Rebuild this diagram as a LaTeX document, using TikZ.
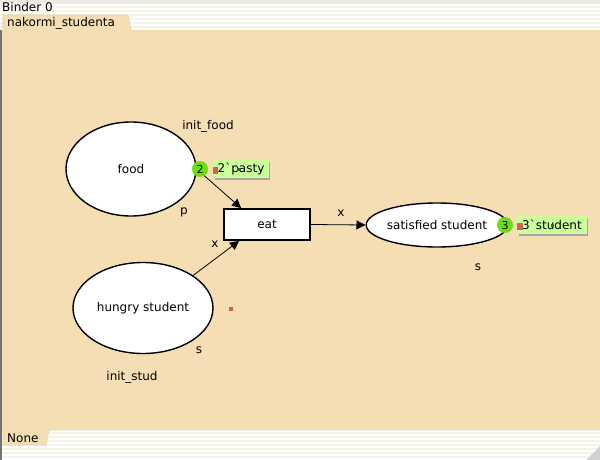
\documentclass[tikz,border=0pt]{standalone}
\usepackage{fontspec}
\setmainfont{DejaVu Sans}
\usetikzlibrary{shapes.geometric,arrows.meta,shadows}
\definecolor{wheatbg}{RGB}{245,222,179}
\definecolor{stripe}{RGB}{246,244,230}
\definecolor{topgray}{RGB}{236,235,227}
\definecolor{tabedge}{RGB}{225,210,175}
\definecolor{tokgreen}{RGB}{110,222,20}
\definecolor{lblgreen}{RGB}{204,255,153}
\definecolor{marker}{RGB}{210,100,70}
\definecolor{handle}{RGB}{20,120,40}
\begin{document}
\begin{tikzpicture}[x=1pt,y=-1pt,
  txt/.style={font=\fontsize{12}{14}\selectfont, inner sep=0pt},
  place/.style={draw=black, line width=1.4pt, fill=white, ellipse, inner sep=0pt, txt},
  trans/.style={draw=black, line width=1.8pt, fill=white, rectangle, inner sep=0pt, txt},
  arcline/.style={draw=black, line width=0.8pt, -{Triangle[length=9pt,width=9pt]}},
  token/.style={circle, fill=tokgreen, inner sep=0pt, minimum size=16pt, font=\fontsize{11}{13}\selectfont},
  marking/.style={fill=lblgreen, inner ysep=0pt, txt, anchor=west, minimum height=18pt,
    drop shadow={shadow xshift=1.5pt, shadow yshift=-1.5pt, fill=black!35, opacity=1}},
  tabshape/.style={fill=wheatbg, draw=tabedge, line width=0.6pt}
]
\useasboundingbox (0,0) rectangle (600,460);
% window background
\fill[white] (0,0) rectangle (600,460);
\fill[topgray] (0,0) rectangle (600,4);
\foreach \y in {6,10,...,28} {\fill[stripe] (0,\y) rectangle (600,\y+2);}
\foreach \y in {432,436,...,458} {\fill[stripe] (0,\y) rectangle (600,\y+2);}
\fill[topgray] (0,430) rectangle (600,431);
\fill[wheatbg] (0,30) rectangle (600,430);
\draw[black!55, line width=1.5pt] (0.75,30) -- (0.75,460);
\fill[black!18] (600,446) -- (600,460) -- (586,460) -- cycle;
% tabs
\node[txt, anchor=base west] (binder) at (2,12) {Binder 0};
\draw[tabshape] (3,30) -- (3,15) -- (128,15) -- (131,30);
\fill[wheatbg] (3,28) rectangle (130,31);
\node[txt, anchor=base west] (tabname) at (7,27) {nakormi\_studenta};
\draw[tabshape] (3,430) -- (3,445) -- (46,445) -- (49,430);
\fill[wheatbg] (3.3,429) rectangle (48.5,431);
\node[txt, anchor=base west] (none) at (7,442) {None};
% nodes
\node[place, minimum width=130pt, minimum height=94pt] (food) at (131,169) {food};
\node[place, minimum width=140pt, minimum height=91pt] (hungry) at (143,308) {hungry student};
\node[place, minimum width=129pt, minimum height=44pt] (sat) at (437,225) {satisfied student};
\node[trans, minimum width=86pt, minimum height=31pt] (eat) at (267,224.5) {eat};
% arcs
\draw[arcline] (food.east) -- ([xshift=18pt]eat.north west);
\draw[arcline] (hungry.33) -- ([xshift=16pt]eat.south west);
\draw[arcline] (eat.east) -- (sat.west);
% labels
\node[txt] (lif) at (208,126) {init\_food};
\node[txt] (lp) at (184,212) {p};
\node[txt] (lx1) at (341,213) {x};
\node[txt] (lx2) at (215,244) {x};
\node[txt] (ls1) at (199,350) {s};
\node[txt] (lis) at (132,377) {init\_stud};
\node[txt] (ls2) at (478,267) {s};
% tokens and markings
\node[token] (t2) at (200,169) {2};
\node[marking, inner xsep=4.5pt] (m2) at (213,169) {2\textasciigrave pasty};
\node[token] (t3) at (505,225) {3};
\node[marking, inner xsep=5pt] (m3) at (517,225) {3\textasciigrave student};
\fill[marker] (213,167) rectangle (218,174);
\fill[marker] (517,223) rectangle (523,230);
\fill[handle] (237,168) rectangle (240,171);
\fill[handle] (551,224) rectangle (554,227);
\fill[marker] (229,307) rectangle (233,311);
\end{tikzpicture}
\end{document}
